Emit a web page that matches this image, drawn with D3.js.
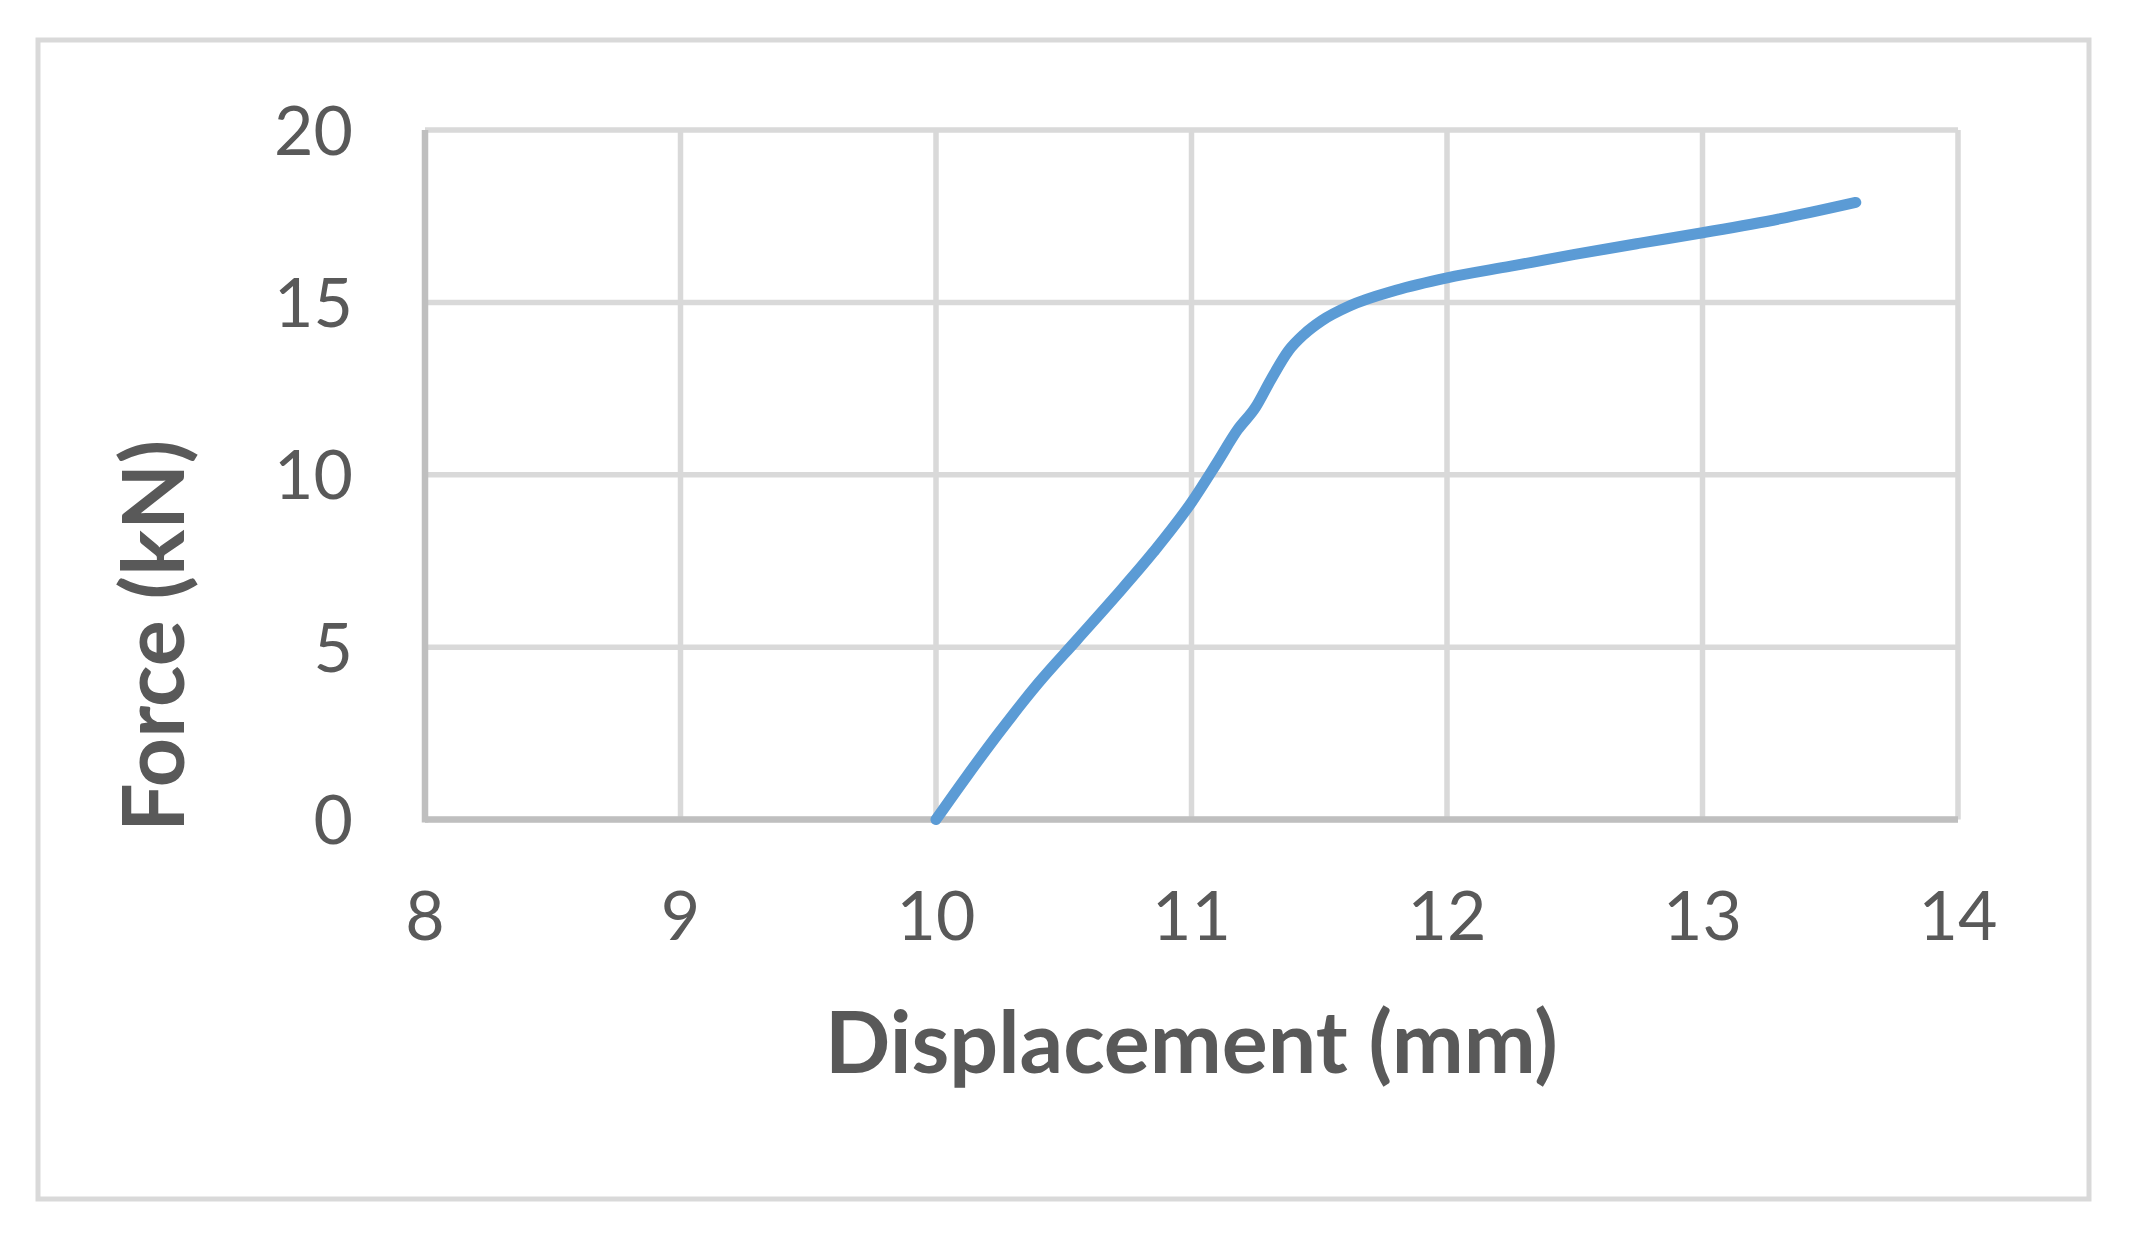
<!DOCTYPE html>
<html>
<head>
<meta charset="utf-8">
<script src="https://cdn.jsdelivr.net/npm/d3@7"></script>
<style>
  body { margin: 0; background: #fff; }
  text { fill: #595959; font-family: Lato, "Open Sans", sans-serif; }
</style>
</head>
<body>
<div id="chart"></div>
<script>
// Values
var displacement = [10.0, 10.12, 10.25, 10.40, 10.55, 10.70, 10.85, 11.0, 11.10, 11.18,
                    11.25, 11.31, 11.38, 11.44, 11.51, 11.62, 11.80, 12.0, 12.25, 12.5,
                    12.75, 13.0, 13.3, 13.6];
var force = [0, 1.25, 2.55, 3.95, 5.2, 6.45, 7.75, 9.2, 10.35, 11.3,
             11.95, 12.75, 13.6, 14.07, 14.47, 14.9, 15.35, 15.71, 16.05, 16.39,
             16.71, 17.02, 17.42, 17.9];
var xTicks = [8, 9, 10, 11, 12, 13, 14];
var yTicks = [0, 5, 10, 15, 20];
var xTitle = "Displacement (mm)";
var yTitle = "Force (kN)";

var width = 2131, height = 1240;
var plot = { left: 425, right: 1958, top: 130, bottom: 819.5 };

var svg = d3.select("#chart").append("svg")
    .attr("width", width).attr("height", height);

// Outer chart border
svg.append("rect")
    .attr("x", 38).attr("y", 40)
    .attr("width", 2051).attr("height", 1159)
    .attr("fill", "none")
    .attr("stroke", "#d9d9d9")
    .attr("stroke-width", 5);

var x = d3.scaleLinear().domain([8, 14]).range([plot.left, plot.right]);
var y = d3.scaleLinear().domain([0, 20]).range([plot.bottom, plot.top]);

// Gridlines
svg.append("g")
  .selectAll("line")
  .data(xTicks)
  .enter().append("line")
    .attr("x1", function(d) { return x(d); })
    .attr("x2", function(d) { return x(d); })
    .attr("y1", plot.top).attr("y2", plot.bottom)
    .attr("stroke", "#d9d9d9")
    .attr("stroke-width", 5.5);

svg.append("g")
  .selectAll("line")
  .data(yTicks)
  .enter().append("line")
    .attr("x1", plot.left).attr("x2", plot.right)
    .attr("y1", function(d) { return y(d); })
    .attr("y2", function(d) { return y(d); })
    .attr("stroke", "#d9d9d9")
    .attr("stroke-width", 5.5);

// Axis lines (a bit darker)
svg.append("line")
    .attr("x1", plot.left).attr("x2", plot.right)
    .attr("y1", y(0)).attr("y2", y(0))
    .attr("stroke", "#bfbfbf").attr("stroke-width", 6.5);
svg.append("line")
    .attr("x1", x(8)).attr("x2", x(8))
    .attr("y1", plot.top).attr("y2", plot.bottom + 3)
    .attr("stroke", "#bfbfbf").attr("stroke-width", 6.5);

// Tick labels
svg.append("g")
  .selectAll("text")
  .data(xTicks)
  .enter().append("text")
    .attr("x", function(d) { return x(d); })
    .attr("y", 940)
    .attr("text-anchor", "middle")
    .attr("font-size", 68)
    .text(function(d) { return d; });

svg.append("g")
  .selectAll("text")
  .data(yTicks)
  .enter().append("text")
    .attr("x", 353)
    .attr("y", function(d) { return y(d) + 24.5; })
    .attr("text-anchor", "end")
    .attr("font-size", 68)
    .text(function(d) { return d; });

// Axis titles
svg.append("text")
    .attr("x", (plot.left + plot.right) / 2)
    .attr("y", 1073)
    .attr("text-anchor", "middle")
    .attr("font-size", 86)
    .attr("font-weight", "bold")
    .text(xTitle);

svg.append("text")
    .attr("transform", "translate(184,636) rotate(-90)")
    .attr("text-anchor", "middle")
    .attr("font-size", 86)
    .attr("font-weight", "bold")
    .text(yTitle);

// The curve (smoothed like the spreadsheet line)
var line = d3.line()
    .x(function(d, i) { return x(displacement[i]); })
    .y(function(d, i) { return y(force[i]); })
    .curve(d3.curveMonotoneX);

svg.append("path")
    .datum(force)
    .attr("d", line)
    .attr("fill", "none")
    .attr("stroke", "#5b9bd5")
    .attr("stroke-width", 11)
    .attr("stroke-linecap", "round")
    .attr("stroke-linejoin", "round");
</script>
</body>
</html>
